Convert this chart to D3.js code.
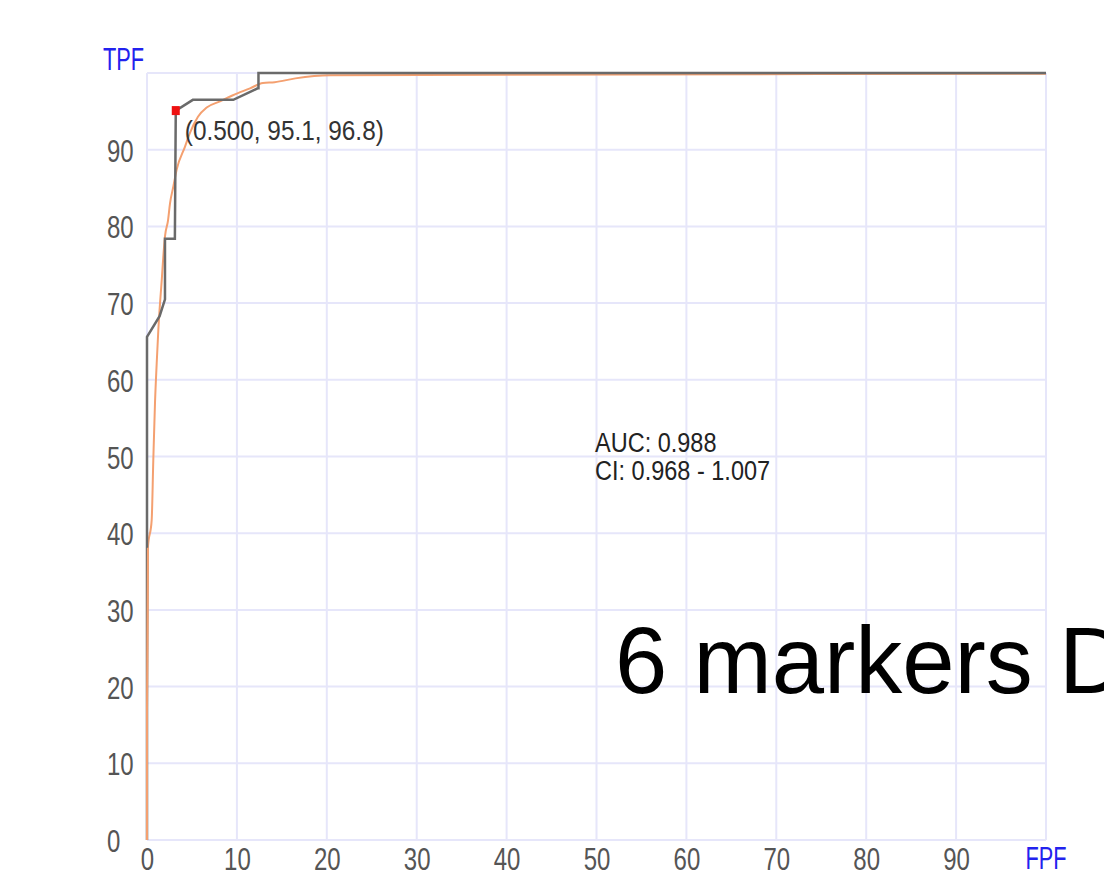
<!DOCTYPE html>
<html>
<head>
<meta charset="utf-8">
<script src="https://cdn.jsdelivr.net/npm/d3@7/dist/d3.min.js"></script>
<style>
  html, body { margin: 0; padding: 0; background: #fff; overflow: hidden; }
  svg { display: block; }
  text { font-family: "Liberation Sans", Arial, sans-serif; }
</style>
</head>
<body>
<svg id="chart" width="1104" height="885"></svg>
<script>
// ---- data ----
const xTicks = [0, 10, 20, 30, 40, 50, 60, 70, 80, 90];
const yTicks = [0, 10, 20, 30, 40, 50, 60, 70, 80, 90];
const gridValues = [0, 10, 20, 30, 40, 50, 60, 70, 80, 90, 100];

// empirical ROC (grey step line)
const empiricalFPF = [0, 0, 1.4, 2.0, 2.0, 3.1, 3.2, 5.1, 9.6, 12.3, 12.4, 12.4, 100];
const empiricalTPF = [0, 65.6, 68.3, 70.5, 78.4, 78.4, 95.1, 96.5, 96.5, 98.0, 98.0, 100, 100];

// fitted ROC (orange smooth line)
const fittedFPF = [0, 0, 0.1, 0.52, 0.70, 0.89, 1.08, 1.26, 1.45, 1.64, 1.81, 2.0, 2.34, 2.56, 2.93, 3.30, 4.23, 4.78, 5.67, 6.64, 8.12, 9.56, 11.46, 12.9, 14.2, 16.5, 20.4, 100];
const fittedTPF = [0, 17.1, 38.1, 41.7, 49.5, 57.0, 62.2, 66.5, 70.0, 73.0, 76.0, 78.7, 80.8, 83.0, 85.2, 87.4, 90.4, 92.2, 94.3, 95.5, 96.3, 97.1, 98.0, 98.7, 98.8, 99.3, 99.7, 99.9];

// operating point
const pointFPF = [3.2];
const pointTPF = [95.1];
const pointLabel = "(0.500, 95.1, 96.8)";
const statsLines = ["AUC: 0.988", "CI: 0.968 - 1.007"];
const bigTitle = "6 markers D";
const yAxisTitle = "TPF";
const xAxisTitle = "FPF";

// ---- drawing ----
const svg = d3.select("#chart");
const x = d3.scaleLinear().domain([0, 100]).range([147, 1046]);
const y = d3.scaleLinear().domain([0, 100]).range([840, 73]);

const gridColor = "#e6e6fa";

// grid
svg.append("g").selectAll("line.v").data(gridValues).join("line")
  .attr("x1", d => x(d)).attr("x2", d => x(d))
  .attr("y1", y(0)).attr("y2", y(100))
  .attr("stroke", gridColor).attr("stroke-width", 2);
svg.append("g").selectAll("line.h").data(gridValues).join("line")
  .attr("y1", d => y(d)).attr("y2", d => y(d))
  .attr("x1", x(0)).attr("x2", x(100))
  .attr("stroke", gridColor).attr("stroke-width", 2);

// y axis labels
const yAxis = svg.append("g").attr("transform", "translate(107,0)")
  .call(d3.axisLeft(y).tickValues(yTicks).tickSize(0).tickFormat(d3.format("d")));
yAxis.select(".domain").remove();
yAxis.selectAll("text")
  .attr("x", 0).attr("dy", "0.36em")
  .attr("text-anchor", "start")
  .attr("transform", "scale(0.75,1)")
  .attr("fill", "#555")
  .style("font-size", "32px")
  .style("font-family", "Liberation Sans, Arial, sans-serif");

// x axis labels
const xAxis = svg.append("g").attr("transform", "translate(0,870)")
  .call(d3.axisBottom(x).tickValues(xTicks).tickSize(0).tickFormat(d3.format("d")));
xAxis.select(".domain").remove();
xAxis.selectAll("text")
  .attr("y", 0).attr("dy", 0)
  .attr("transform", "scale(0.75,1)")
  .attr("fill", "#555")
  .style("font-size", "32px")
  .style("font-family", "Liberation Sans, Arial, sans-serif");

// axis titles
svg.append("text").text(yAxisTitle)
  .attr("transform", "translate(103,70) scale(0.68,1)")
  .attr("fill", "#2222ee").style("font-size", "32px");
svg.append("text").text(xAxisTitle)
  .attr("transform", `translate(${x(100)},869) scale(0.68,1)`)
  .attr("text-anchor", "middle")
  .attr("fill", "#2222ee").style("font-size", "32px");

// fitted curve
const fitted = fittedFPF.map((v, i) => [v, fittedTPF[i]]);
svg.append("path").datum(fitted)
  .attr("d", d3.line().x(d => x(d[0])).y(d => y(d[1])).curve(d3.curveMonotoneX))
  .attr("fill", "none").attr("stroke", "#f4a070").attr("stroke-width", 2);

// empirical curve
const empirical = empiricalFPF.map((v, i) => [v, empiricalTPF[i]]);
svg.append("path").datum(empirical)
  .attr("d", d3.line().x(d => x(d[0])).y(d => y(d[1])))
  .attr("fill", "none").attr("stroke", "#6a6a6a").attr("stroke-width", 2.5);

// redraw fitted on top near start (orange dominates low part)
svg.append("path").datum(fitted.slice(0, 3))
  .attr("d", d3.line().x(d => x(d[0])).y(d => y(d[1])))
  .attr("fill", "none").attr("stroke", "#f4a070").attr("stroke-width", 2);

// operating point
const pts = pointFPF.map((v, i) => [v, pointTPF[i]]);
svg.append("g").selectAll("rect").data(pts).join("rect")
  .attr("x", d => x(d[0]) - 4).attr("y", d => y(d[1]) - 4.5)
  .attr("width", 8).attr("height", 9)
  .attr("fill", "#ee1111");
svg.append("g").selectAll("text").data(pts).join("text")
  .text(pointLabel)
  .attr("transform", d => `translate(${x(d[0]) + 9},${y(d[1]) + 29}) scale(0.87,1)`)
  .attr("fill", "#333").style("font-size", "28px");

// stats
svg.append("g").selectAll("text").data(statsLines).join("text")
  .text(d => d)
  .attr("transform", (d, i) => `translate(595,${452 + i * 28}) scale(0.84,1)`)
  .attr("fill", "#222").style("font-size", "28px");

// big title
svg.append("text").text(bigTitle)
  .attr("x", 615).attr("y", 693)
  .attr("fill", "#000").style("font-size", "94px");
</script>
</body>
</html>
